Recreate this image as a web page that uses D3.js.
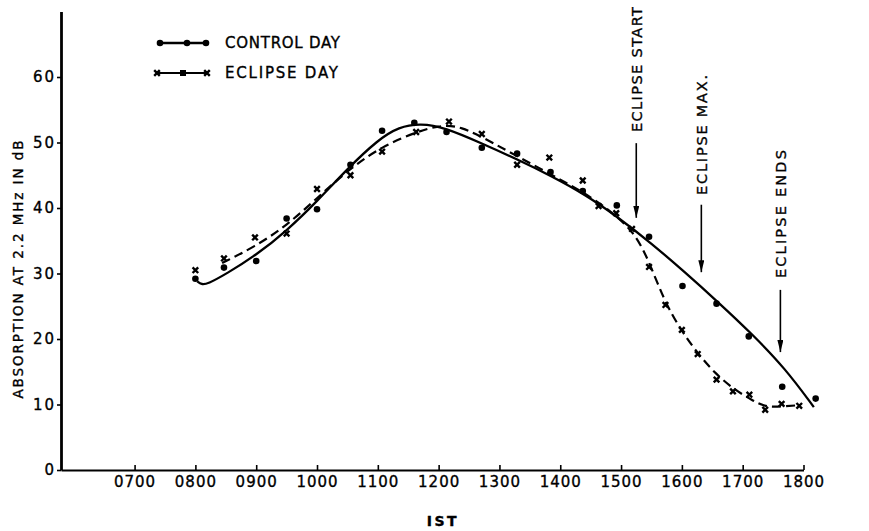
<!DOCTYPE html>
<html>
<head>
<meta charset="utf-8">
<script src="https://cdn.jsdelivr.net/npm/d3@7"></script>
<style>
  html, body { margin: 0; padding: 0; background: #fff; }
  svg { display: block; }
  text { font-family: "DejaVu Sans", sans-serif; fill: #000; stroke: #000; stroke-width: 0.35px; }
</style>
</head>
<body>
<svg id="chart" width="869" height="531"></svg>
<script>
// ---- data ----
const xTickValues = [7, 8, 9, 10, 11, 12, 13, 14, 15, 16, 17, 18];
const xTickLabels = ["0700", "0800", "0900", "1000", "1100", "1200", "1300", "1400", "1500", "1600", "1700", "1800"];
const yTickValues = [0, 10, 20, 30, 40, 50, 60];

// Control day measured points (time in hours IST, absorption dB)
const controlTimes  = [8.0, 8.47, 9.0, 9.5, 10.0, 10.55, 11.07, 11.6, 12.13, 12.71, 13.29, 13.84, 14.37, 14.93, 15.46, 16.01, 16.57, 17.1, 17.65, 18.2];
const controlValues = [29.2, 30.9, 31.9, 38.4, 39.8, 46.6, 51.8, 53.0, 51.6, 49.2, 48.3, 45.5, 42.6, 40.4, 35.6, 28.1, 25.4, 20.4, 12.7, 10.9];

// Eclipse day measured points
const eclipseTimes  = [8.0, 8.47, 8.98, 9.5, 10.0, 10.55, 11.07, 11.63, 12.17, 12.71, 13.29, 13.82, 14.37, 14.63, 14.92, 15.18, 15.46, 15.73, 16.0, 16.26, 16.57, 16.84, 17.11, 17.37, 17.64, 17.93];
const eclipseValues = [30.5, 32.3, 35.5, 36.1, 42.9, 45.0, 48.6, 51.6, 53.2, 51.3, 46.6, 47.7, 44.2, 40.3, 39.2, 36.8, 31.0, 25.2, 21.4, 17.7, 13.8, 12.0, 11.5, 9.2, 10.1, 9.8];

// Hand-drawn smooth curves
const controlCurveTimes  = [8.03, 8.1, 8.2, 8.5, 9.0, 9.5, 10.0, 10.5, 11.0, 11.35, 11.7, 12.1, 12.7, 13.3, 13.85, 14.4, 14.95, 15.5, 16.05, 16.6, 17.15, 17.7, 18.17];
const controlCurveValues = [28.8, 28.3, 28.4, 29.9, 32.8, 36.5, 41.0, 46.0, 50.4, 52.4, 52.9, 52.3, 49.9, 47.4, 44.9, 42.1, 38.6, 34.6, 30.2, 25.6, 20.8, 15.5, 9.6];

const eclipseCurveTimes  = [8.44, 8.98, 9.5, 10.0, 10.55, 11.07, 11.63, 12.0, 12.35, 12.9, 13.65, 14.43, 14.87, 15.2, 15.43, 15.7, 15.98, 16.26, 16.54, 16.87, 17.15, 17.37, 17.65, 17.93];
const eclipseCurveValues = [31.6, 34.1, 37.3, 41.5, 46.1, 49.4, 51.6, 52.6, 52.6, 49.9, 46.1, 42.2, 39.2, 36.4, 32.6, 26.0, 21.4, 17.8, 14.8, 12.2, 10.7, 9.6, 9.7, 9.9];

// Annotations
const annotationLabels   = ["ECLIPSE START", "ECLIPSE MAX.", "ECLIPSE ENDS"];
const annotationTimes    = [15.25, 16.32, 17.62];
const annotationTextBase = [51.6, 42.0, 29.3];
const annotationArrowTop = [49.9, 40.5, 27.5];
const annotationArrowTip = [38.5, 30.2, 18.0];

const legendLabels = ["CONTROL DAY", "ECLIPSE DAY"];
const yAxisTitle = "ABSORPTION AT 2.2 MHz IN dB";
const xAxisTitle = "IST";

// ---- drawing ----
const svg = d3.select("#chart");
svg.append("rect").attr("width", 869).attr("height", 531).attr("fill", "#fff");

const x = d3.scaleLinear().domain([5.79, 18]).range([61, 803.5]);
const y = d3.scaleLinear().domain([0, 70]).range([470, 11.5]);

// X axis
const xAxis = d3.axisBottom(x)
  .tickValues(xTickValues)
  .tickFormat((d, i) => xTickLabels[i])
  .tickSize(-5).tickSizeOuter(0).tickPadding(6);
const gx = svg.append("g").attr("transform", "translate(0,470)").call(xAxis);
gx.select(".domain").attr("stroke", "#000").attr("stroke-width", 2.2);
gx.selectAll(".tick line").attr("stroke", "#000").attr("stroke-width", 1.6);
gx.selectAll(".tick text").attr("font-size", 15).attr("letter-spacing", 1)
  .attr("font-family", "DejaVu Sans").attr("fill", "#000");

// Y axis
const yAxis = d3.axisLeft(y)
  .tickValues(yTickValues)
  .tickSize(4).tickSizeOuter(0).tickPadding(1);
const gy = svg.append("g").attr("transform", "translate(61,0)").call(yAxis);
gy.select(".domain").attr("stroke", "#000").attr("stroke-width", 2.8);
gy.selectAll(".tick line").attr("stroke", "#000").attr("stroke-width", 1.6);
gy.selectAll(".tick text").attr("font-size", 15).attr("letter-spacing", 2)
  .attr("font-family", "DejaVu Sans").attr("fill", "#000");

// Y title
svg.append("text")
  .attr("transform", `translate(18,${y(10.9)}) rotate(-90)`)
  .attr("dy", "0.36em")
  .attr("font-size", 13.5)
  .attr("textLength", 258).attr("lengthAdjust", "spacing")
  .text(yAxisTitle);

// X title
svg.append("text")
  .attr("x", 443).attr("y", 526)
  .attr("text-anchor", "middle")
  .attr("font-family", "DejaVu Serif").attr("font-weight", "bold")
  .attr("font-size", 14).attr("letter-spacing", 2.5)
  .text(xAxisTitle);

// Curves
const controlCurve = controlCurveTimes.map((t, i) => [t, controlCurveValues[i]]);
const eclipseCurve = eclipseCurveTimes.map((t, i) => [t, eclipseCurveValues[i]]);
const line = d3.line().x(d => x(d[0])).y(d => y(d[1])).curve(d3.curveBasis);

svg.append("path").datum(controlCurve).attr("d", line)
  .attr("fill", "none").attr("stroke", "#000").attr("stroke-width", 2.3);
svg.append("path").datum(eclipseCurve).attr("d", line)
  .attr("fill", "none").attr("stroke", "#000").attr("stroke-width", 2.2)
  .attr("stroke-dasharray", "9,5");

// Markers
const crossPath = "M-2.8,-2.8L2.8,2.8M-2.8,2.8L2.8,-2.8";
svg.append("g").selectAll("circle")
  .data(controlTimes.map((t, i) => [t, controlValues[i]]))
  .join("circle")
  .attr("cx", d => x(d[0])).attr("cy", d => y(d[1])).attr("r", 3.3).attr("fill", "#000");
svg.append("g").selectAll("path")
  .data(eclipseTimes.map((t, i) => [t, eclipseValues[i]]))
  .join("path")
  .attr("transform", d => `translate(${x(d[0])},${y(d[1])})`)
  .attr("d", crossPath).attr("stroke", "#000").attr("stroke-width", 2.4).attr("fill", "none");

// Annotations
const defs = svg.append("defs");
defs.append("marker").attr("id", "arrowhead")
  .attr("viewBox", "0 0 12 6").attr("refX", 12).attr("refY", 3)
  .attr("markerWidth", 12).attr("markerHeight", 6).attr("markerUnits", "userSpaceOnUse")
  .attr("orient", "auto")
  .append("path").attr("d", "M0,0L12,3L0,6Z").attr("fill", "#000");

const annTextLen = [125, 120, 128];
annotationLabels.forEach((lab, i) => {
  const ax = x(annotationTimes[i]);
  svg.append("line")
    .attr("x1", ax).attr("x2", ax)
    .attr("y1", y(annotationArrowTop[i])).attr("y2", y(annotationArrowTip[i]))
    .attr("stroke", "#000").attr("stroke-width", 1.6)
    .attr("marker-end", "url(#arrowhead)");
  svg.append("text")
    .attr("transform", `translate(${ax},${y(annotationTextBase[i])}) rotate(-90)`)
    .attr("dy", "0.36em")
    .attr("font-size", 14.5)
    .attr("textLength", annTextLen[i]).attr("lengthAdjust", "spacing")
    .text(lab);
});

// Legend
const lg = svg.append("g");
lg.append("line").attr("x1", 158).attr("x2", 207).attr("y1", 43).attr("y2", 43)
  .attr("stroke", "#000").attr("stroke-width", 2.5);
[160, 187, 206].forEach(cx => lg.append("circle").attr("cx", cx).attr("cy", 43).attr("r", 3.3).attr("fill", "#000"));
lg.append("line").attr("x1", 156).attr("x2", 208).attr("y1", 73).attr("y2", 73)
  .attr("stroke", "#000").attr("stroke-width", 2.2);
[157, 207].forEach(cx => lg.append("path").attr("transform", `translate(${cx},73)`)
  .attr("d", crossPath).attr("stroke", "#000").attr("stroke-width", 2.4));
lg.append("rect").attr("x", 180).attr("y", 70).attr("width", 6).attr("height", 6).attr("fill", "#000");
lg.selectAll("text.leg").data(legendLabels).join("text")
  .attr("class", "leg")
  .attr("x", 225).attr("y", (d, i) => 43 + i * 30)
  .attr("dy", "0.36em")
  .attr("font-size", 15)
  .attr("textLength", (d, i) => i === 0 ? 115 : 113).attr("lengthAdjust", "spacing")
  .text(d => d);
</script>
</body>
</html>
